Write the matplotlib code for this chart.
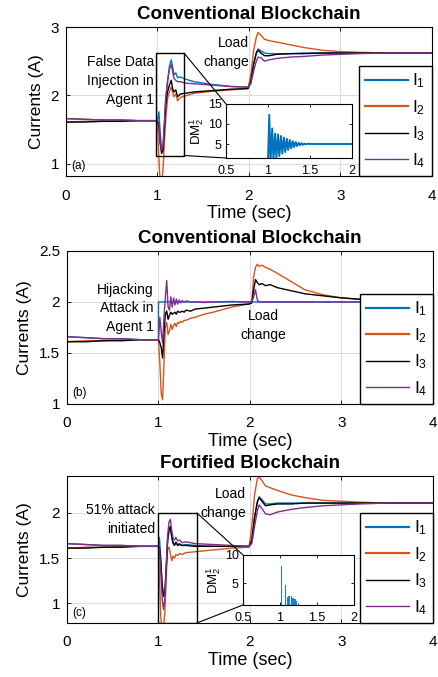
import matplotlib
matplotlib.use("Agg")
import matplotlib.pyplot as plt
from matplotlib.patches import Rectangle, ConnectionPatch
from matplotlib.ticker import FormatStrFormatter

plt.rcParams['font.family'] = ['Liberation Sans', 'DejaVu Sans']
plt.rcParams['mathtext.fontset'] = 'custom'
plt.rcParams['mathtext.rm'] = 'Liberation Sans'
plt.rcParams['mathtext.it'] = 'Liberation Sans'

# ---- data ----
labels = ['I$_1$', 'I$_2$', 'I$_3$', 'I$_4$']
colors = ['#0072BD', '#D95319', '#000000', '#7E2F8E']

# (a) false data injection, conventional blockchain
t_a = [0, 0.2, 0.4, 0.6, 0.8, 0.99, 1.0, 1.015, 1.03, 1.045, 1.06, 1.075, 1.09, 1.11,
       1.13, 1.15, 1.165, 1.18, 1.2, 1.22, 1.25, 1.3, 1.4, 1.6, 1.8, 1.99, 2.02, 2.05,
       2.08, 2.1, 2.13, 2.17, 2.22, 2.3, 2.45, 2.6, 2.8, 3.0, 3.2, 3.5, 4.0]
I1_a = [1.66, 1.65, 1.64, 1.64, 1.63, 1.63, 1.64, 1.76, 1.45, 1.2, 1.17, 1.55, 1.95, 2.2,
        2.42, 2.52, 2.42, 2.3, 2.33, 2.26, 2.27, 2.24, 2.2, 2.16, 2.13, 2.12, 2.2, 2.45,
        2.62, 2.68, 2.65, 2.62, 2.61, 2.61, 2.61, 2.62, 2.62, 2.62, 2.62, 2.62, 2.62]
I2_a = [1.61, 1.62, 1.62, 1.63, 1.63, 1.63, 1.62, 1.1, 0.7, 0.72, 0.9, 1.3, 1.65, 1.95,
        2.05, 2.12, 2.05, 1.98, 2.02, 1.92, 1.97, 1.99, 2.03, 2.06, 2.08, 2.1, 2.3, 2.65,
        2.85, 2.92, 2.88, 2.82, 2.8, 2.78, 2.74, 2.7, 2.66, 2.64, 2.63, 2.62, 2.62]
I3_a = [1.61, 1.61, 1.62, 1.62, 1.63, 1.63, 1.63, 1.55, 1.3, 1.15, 1.2, 1.5, 1.85, 2.05,
        2.15, 2.22, 2.1, 2.05, 2.08, 1.98, 2.02, 2.03, 2.05, 2.07, 2.09, 2.1, 2.2, 2.45,
        2.62, 2.66, 2.62, 2.58, 2.58, 2.6, 2.61, 2.61, 2.62, 2.62, 2.62, 2.62, 2.62]
I4_a = [1.66, 1.65, 1.64, 1.64, 1.63, 1.63, 1.63, 1.6, 1.3, 1.2, 1.25, 1.6, 1.95, 2.2,
        2.38, 2.45, 2.35, 2.25, 2.22, 2.2, 2.2, 2.18, 2.17, 2.15, 2.13, 2.12, 2.17, 2.35,
        2.5, 2.56, 2.55, 2.5, 2.52, 2.54, 2.56, 2.57, 2.59, 2.6, 2.61, 2.62, 2.62]
dm_a_t = [0.5, 0.999, 1.015, 1.03, 1.05, 1.065, 1.085, 1.10, 1.12, 1.135, 1.155, 1.17,
          1.19, 1.205, 1.225, 1.24, 1.26, 1.275, 1.295, 1.31, 1.33, 1.345, 1.365, 1.38,
          1.40, 1.415, 1.435, 1.45, 1.47, 1.5, 1.6, 1.7, 1.8, 1.9, 2.0]
dm_a = [0, 0, 12.3, 0.5, 8.9, 1.0, 7.6, 1.5, 7.4, 2.0, 7.0, 2.6, 6.6, 3.0, 6.3, 3.5, 6.0,
        3.9, 5.7, 4.2, 5.5, 4.5, 5.3, 4.7, 5.2, 4.8, 5.1, 4.9, 5.05, 5.0, 5.0, 5.0, 5.0,
        5.0, 5.0]

# (b) hijacking attack, conventional blockchain
t_b = [0, 0.2, 0.4, 0.6, 0.8, 0.999, 1.0, 1.015, 1.03, 1.045, 1.06, 1.075, 1.09, 1.105,
       1.12, 1.135, 1.15, 1.165, 1.18, 1.195, 1.21, 1.225, 1.24, 1.26, 1.28, 1.3, 1.35,
       1.4, 1.5, 1.6, 1.8, 1.99, 2.02, 2.04, 2.06, 2.08, 2.1, 2.13, 2.17, 2.22, 2.3, 2.45,
       2.6, 2.8, 3.0, 3.3, 3.6, 4.0]
I1_b = [1.66, 1.65, 1.64, 1.64, 1.63, 1.63] + [2.0] * 42
I2_b = [1.61, 1.62, 1.62, 1.63, 1.63, 1.63, 1.62, 1.4, 1.1, 1.04, 1.4, 1.75, 1.8, 1.68,
        1.72, 1.78, 1.73, 1.77, 1.79, 1.76, 1.8, 1.79, 1.81, 1.8, 1.82, 1.82, 1.84, 1.85,
        1.88, 1.9, 1.95, 1.98, 2.0, 2.25, 2.34, 2.37, 2.35, 2.36, 2.34, 2.32, 2.28, 2.2,
        2.12, 2.07, 2.04, 2.02, 2.01, 2.0]
I3_b = [1.61, 1.61, 1.62, 1.62, 1.63, 1.63, 1.63, 1.6, 1.55, 1.45, 1.7, 1.88, 1.91, 1.83,
        1.87, 1.9, 1.88, 1.89, 1.9, 1.88, 1.91, 1.9, 1.9, 1.91, 1.9, 1.92, 1.91, 1.93,
        1.94, 1.95, 1.97, 1.98, 1.99, 2.12, 2.22, 2.19, 2.17, 2.18, 2.16, 2.17, 2.14, 2.11,
        2.08, 2.06, 2.04, 2.02, 2.01, 2.0]
I4_b = [1.66, 1.65, 1.64, 1.64, 1.63, 1.63, 1.63, 1.85, 1.7, 1.6, 1.85, 2.05, 2.21, 1.95,
        1.92, 2.05, 1.95, 2.04, 1.97, 2.03, 1.98, 2.02, 1.99, 2.015, 1.995, 2.01, 2.0, 2.0,
        1.995, 2.0, 2.005, 2.0, 2.0, 2.05, 2.12, 2.02, 2.0, 2.0, 2.0, 2.0, 2.0, 2.0, 2.0,
        2.0, 2.0, 2.0, 2.0, 2.0]

# (c) 51% attack, fortified blockchain
t_c = [0, 0.2, 0.4, 0.6, 0.8, 0.99, 1.0, 1.01, 1.025, 1.04, 1.055, 1.07, 1.085, 1.1,
       1.115, 1.13, 1.145, 1.16, 1.175, 1.19, 1.21, 1.23, 1.26, 1.3, 1.4, 1.6, 1.8, 1.99,
       2.02, 2.05, 2.08, 2.1, 2.13, 2.17, 2.22, 2.3, 2.45, 2.6, 2.8, 3.0, 3.2, 3.5, 4.0]
I1_c = [1.66, 1.65, 1.64, 1.64, 1.63, 1.63, 1.63, 1.73, 1.5, 1.2, 1.07, 1.1, 1.4, 1.7,
        1.8, 1.83, 1.75, 1.67, 1.65, 1.68, 1.65, 1.66, 1.64, 1.65, 1.64, 1.63, 1.63, 1.63,
        1.7, 1.95, 2.12, 2.18, 2.15, 2.1, 2.1, 2.11, 2.11, 2.11, 2.11, 2.11, 2.11, 2.11, 2.11]
I2_c = [1.61, 1.62, 1.62, 1.63, 1.63, 1.63, 1.62, 1.3, 0.85, 0.7, 0.72, 0.9, 1.3, 1.6,
        1.62, 1.55, 1.47, 1.52, 1.5, 1.54, 1.53, 1.55, 1.54, 1.56, 1.57, 1.59, 1.61, 1.62,
        1.85, 2.2, 2.38, 2.4, 2.36, 2.3, 2.28, 2.25, 2.2, 2.17, 2.14, 2.13, 2.12, 2.11, 2.11]
I3_c = [1.61, 1.61, 1.62, 1.62, 1.63, 1.63, 1.63, 1.62, 1.45, 1.2, 1.08, 1.12, 1.4, 1.7,
        1.82, 1.85, 1.73, 1.66, 1.64, 1.67, 1.64, 1.65, 1.64, 1.64, 1.63, 1.63, 1.63, 1.63,
        1.7, 1.95, 2.12, 2.17, 2.13, 2.08, 2.09, 2.1, 2.1, 2.11, 2.11, 2.11, 2.11, 2.11, 2.11]
I4_c = [1.66, 1.65, 1.64, 1.64, 1.63, 1.63, 1.63, 1.6, 1.35, 1.05, 0.93, 1.05, 1.4, 1.75,
        1.9, 1.93, 1.8, 1.72, 1.7, 1.73, 1.69, 1.7, 1.67, 1.68, 1.66, 1.65, 1.64, 1.63,
        1.66, 1.85, 2.02, 2.09, 2.05, 1.99, 1.98, 2.01, 2.04, 2.06, 2.08, 2.09, 2.1, 2.11, 2.11]
dm_c_t = [1.02, 1.075, 1.105, 1.125, 1.155, 1.175, 1.205, 1.225, 1.25]
dm_c = [8.1, 4.8, 2.6, 2.7, 2.7, 2.5, 2.2, 1.9, 1.6]


def style_axes(ax, ylim, yticks):
    ax.set_xlim(0, 4)
    ax.set_ylim(*ylim)
    ax.set_xticks([0, 1, 2, 3, 4])
    ax.set_yticks(yticks)
    ax.yaxis.set_major_formatter(FormatStrFormatter('%g'))
    ax.grid(True, color='#dcdcdc', lw=0.8)
    ax.set_axisbelow(True)
    ax.tick_params(direction='in', top=True, right=True, length=3, labelsize=11,
                   width=0.6)
    ax.tick_params(axis='x', pad=9)
    ax.tick_params(axis='y', pad=5)
    for s in ax.spines.values():
        s.set_linewidth(0.8)
    ax.set_xlabel('Time (sec)', fontsize=13, labelpad=2)
    ax.set_ylabel('Currents (A)', fontsize=12.5, labelpad=5)


def add_legend(ax):
    leg = ax.legend(loc='lower right', bbox_to_anchor=(1, 0), borderaxespad=0,
                    fancybox=False, edgecolor='k', framealpha=1, fontsize=12.5,
                    handlelength=2.5, labelspacing=0.45, handletextpad=0.25,
                    borderpad=0.35)
    leg.get_frame().set_linewidth(1.0)
    leg.set_zorder(10)
    for h, w in zip(leg.get_lines(), [1.6, 1.6, 1.0, 1.0]):
        h.set_linewidth(w)


def inset(fig, rect, ylim, yticks):
    ia = fig.add_axes(rect)
    ia.set_xlim(0.5, 2)
    ia.set_ylim(*ylim)
    ia.set_xticks([0.5, 1, 1.5, 2])
    ia.set_yticks(yticks)
    ia.xaxis.set_major_formatter(FormatStrFormatter('%g'))
    ia.tick_params(direction='in', top=True, right=True, length=2, labelsize=9,
                   width=0.6, pad=3)
    ia.tick_params(axis='x', pad=5)
    ia.set_ylabel('DM$_2^1$', fontsize=9.5, labelpad=1)
    return ia


fig = plt.figure(figsize=(4.39, 6.77), dpi=100)

# ---------- (a) ----------
ax = fig.add_axes([0.1503, 0.740, 0.8337, 0.2201])
for y, c, l in zip([I1_a, I2_a, I3_a, I4_a], colors, labels):
    ax.plot(t_a, y, color=c, lw=1.0, label=l)
style_axes(ax, (0.82, 3), [1, 2, 3])
ax.set_title('Conventional Blockchain', fontsize=13.5, fontweight='bold', pad=6)
ax.text(0.015, 0.03, '(a)', transform=ax.transAxes, fontsize=8.5, va='bottom')
ax.text(0.96, 2.21, 'False Data\nInjection in\nAgent 1', ha='right', va='center',
        fontsize=10, linespacing=1.45)
ax.text(2.0, 2.625, 'Load\nchange', ha='right', va='center', fontsize=10,
        linespacing=1.45)
ax.add_patch(Rectangle((0.98, 1.12), 0.31, 1.5, fill=False, ec='k', lw=1.0, zorder=5))
add_legend(ax)
ia = inset(fig, [0.5148, 0.7666, 0.287, 0.0798], (1.5, 15), [5, 10, 15])
ia.plot(dm_a_t, dm_a, color=colors[0], lw=1.4)
for ya, yb in [(2.62, 1), (1.12, 0)]:
    fig.add_artist(ConnectionPatch((1.29, ya), (0, yb), coordsA='data',
                                   coordsB='axes fraction', axesA=ax, axesB=ia,
                                   color='k', lw=0.8))

# ---------- (b) ----------
ax = fig.add_axes([0.1526, 0.4033, 0.8337, 0.226])
for y, c, l in zip([I1_b, I2_b, I3_b, I4_b], colors, labels):
    ax.plot(t_b, y, color=c, lw=1.0, label=l)
style_axes(ax, (1, 2.5), [1, 1.5, 2, 2.5])
ax.set_title('Conventional Blockchain', fontsize=13.5, fontweight='bold', pad=6)
ax.text(0.015, 0.03, '(b)', transform=ax.transAxes, fontsize=8.5, va='bottom')
ax.text(0.95, 1.936, 'Hijacking\nAttack in\nAgent 1', ha='right', va='center',
        fontsize=10, linespacing=1.45)
ax.text(2.15, 1.765, 'Load\nchange', ha='center', va='center', fontsize=10,
        linespacing=1.45)
add_legend(ax)

# ---------- (c) ----------
ax = fig.add_axes([0.1526, 0.0798, 0.8337, 0.2171])
for y, c, l in zip([I1_c, I2_c, I3_c, I4_c], colors, labels):
    ax.plot(t_c, y, color=c, lw=1.0, label=l)
style_axes(ax, (0.78, 2.41), [1, 1.5, 2])
ax.set_title('Fortified Blockchain', fontsize=13.5, fontweight='bold', pad=6)
ax.text(0.015, 0.03, '(c)', transform=ax.transAxes, fontsize=8.5, va='bottom')
ax.text(0.96, 1.925, '51% attack\ninitiated', ha='right', va='center', fontsize=10,
        linespacing=1.45)
ax.text(1.96, 2.10, 'Load\nchange', ha='right', va='center', fontsize=10,
        linespacing=1.45)
ax.add_patch(Rectangle((0.99, 0.78), 0.43, 1.22, fill=False, ec='k', lw=1.0, zorder=5))
add_legend(ax)
ia = inset(fig, [0.5535, 0.1064, 0.2528, 0.0739], (1.2, 10), [5, 10])
ia.bar(dm_c_t, dm_c, width=0.02, color='#1f7fcf', linewidth=0)
for ya, yb in [(2.0, 1), (0.78, 0)]:
    fig.add_artist(ConnectionPatch((1.42, ya), (0, yb), coordsA='data',
                                   coordsB='axes fraction', axesA=ax, axesB=ia,
                                   color='k', lw=0.8))

fig.savefig('out.png', dpi=100)
